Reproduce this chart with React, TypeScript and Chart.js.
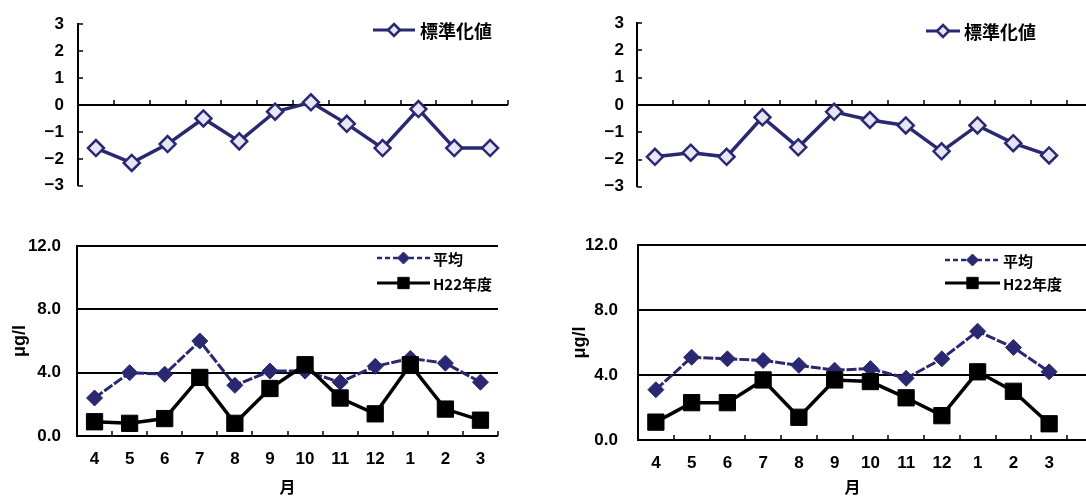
import React, { useEffect, useRef } from 'react';
import { Chart, registerables } from 'chart.js';

Chart.register(...registerables);

// Months of the fiscal year (April to March)
const months = ['4', '5', '6', '7', '8', '9', '10', '11', '12', '1', '2', '3'];

// Tick values of the two kinds of value axes
const stdTicks = [-3, -2, -1, 0, 1, 2, 3];
const concTicks = [0, 4, 8, 12];

// Standardized values (upper panels)
const leftStandardized = [-1.6, -2.15, -1.45, -0.5, -1.35, -0.25, 0.1, -0.7, -1.6, -0.15, -1.6, -1.6];
const rightStandardized = [-1.9, -1.75, -1.9, -0.45, -1.55, -0.25, -0.55, -0.75, -1.7, -0.75, -1.4, -1.85];

// Concentrations in μg/l (lower panels)
const leftAverage = [2.4, 4.0, 3.9, 6.0, 3.2, 4.1, 4.1, 3.4, 4.4, 4.9, 4.6, 3.4];
const leftH22 = [0.9, 0.8, 1.1, 3.7, 0.8, 3.0, 4.5, 2.4, 1.4, 4.5, 1.7, 1.0];
const rightAverage = [3.1, 5.1, 5.0, 4.9, 4.6, 4.3, 4.4, 3.8, 5.0, 6.7, 5.7, 4.2];
const rightH22 = [1.1, 2.3, 2.3, 3.7, 1.4, 3.7, 3.6, 2.6, 1.5, 4.2, 3.0, 1.0];

const NAVY = '#2a2870';
const LATIN = "'Liberation Sans', Arial, sans-serif";
const CJK = "'Noto Sans CJK JP', 'Noto Sans', sans-serif";

type Area = { left: number; top: number; right: number; bottom: number };
type LegendSpec = { x: number; y: number; rowH: number; lineW: number; gap: number; font: string };
type Panel = {
  left: number;
  top: number;
  width: number;
  height: number;
  area: Area;
  kind: 'std' | 'conc';
  datasets: any[];
  legend: LegendSpec;
  extendRight: boolean;
  yPad: number;
  yTitlePad: number;
};

function drawMarker(ctx: CanvasRenderingContext2D, style: string, x: number, y: number, r: number, fill: string, stroke: string, bw: number) {
  ctx.beginPath();
  if (style === 'rectRot') {
    ctx.moveTo(x, y - r);
    ctx.lineTo(x + r, y);
    ctx.lineTo(x, y + r);
    ctx.lineTo(x - r, y);
    ctx.closePath();
  } else {
    const s = r * Math.SQRT1_2;
    ctx.rect(x - s, y - s, 2 * s, 2 * s);
  }
  ctx.fillStyle = fill;
  ctx.fill();
  if (bw > 0) {
    ctx.lineWidth = bw;
    ctx.strokeStyle = stroke;
    ctx.stroke();
  }
}

function line(ctx: CanvasRenderingContext2D, x1: number, y1: number, x2: number, y2: number) {
  ctx.beginPath();
  ctx.moveTo(x1, y1);
  ctx.lineTo(x2, y2);
  ctx.stroke();
}

// Axis line at zero, category tick marks, horizontal rules and the in-plot legend
const axisMarks = {
  id: 'axisMarks',
  beforeDatasetsDraw(chart: any, _args: any, opts: any) {
    const { ctx, chartArea: a } = chart;
    const xs = chart.scales.x;
    const ys = chart.scales.y;
    const right = opts.extendRight ? chart.width : a.right;
    ctx.save();
    ctx.strokeStyle = '#000';
    ctx.lineWidth = 2;
    if (opts.grid) {
      for (const t of ys.ticks) {
        const py = Math.round(ys.getPixelForValue(t.value));
        line(ctx, a.left, py, right, py);
      }
    }
    const zy = Math.round(ys.getPixelForValue(0));
    line(ctx, a.left, zy, right, zy);
    // tick marks at category boundaries, pointing up
    const step = xs.getPixelForValue(1) - xs.getPixelForValue(0);
    const start = xs.getPixelForValue(0) - step / 2;
    ctx.lineWidth = 1.5;
    for (let i = 1; i <= xs.ticks.length; i++) {
      const px = Math.round(start + i * step);
      line(ctx, px, zy, px, zy - 5);
    }
    // small inward ticks on the value axis
    if (opts.innerYTicks) {
      for (const t of ys.ticks) {
        const py = Math.round(ys.getPixelForValue(t.value));
        line(ctx, a.left, py, a.left + 5, py);
      }
    }
    ctx.restore();
  },
  afterDraw(chart: any, _args: any, opts: any) {
    const lg: LegendSpec = opts.legend;
    if (!lg) return;
    const ctx: CanvasRenderingContext2D = chart.ctx;
    chart.data.datasets.forEach((ds: any, i: number) => {
      const cy = lg.y + i * lg.rowH;
      ctx.save();
      ctx.strokeStyle = ds.borderColor;
      ctx.lineWidth = ds.legendLineWidth;
      ctx.setLineDash(ds.legendDash || []);
      line(ctx, lg.x, cy, lg.x + lg.lineW, cy);
      ctx.setLineDash([]);
      drawMarker(ctx, ds.pointStyle, lg.x + lg.lineW / 2, cy, ds.legendRadius, ds.pointBackgroundColor, ds.pointBorderColor, ds.pointBorderWidth);
      ctx.fillStyle = '#000';
      ctx.font = lg.font;
      ctx.textAlign = 'left';
      ctx.textBaseline = 'middle';
      ctx.fillText(ds.label, lg.x + lg.lineW + lg.gap, cy + 1);
      ctx.restore();
    });
  },
};

function stdDataset(values: number[]) {
  return {
    label: '標準化値',
    data: values,
    borderColor: NAVY,
    borderWidth: 3.5,
    pointStyle: 'rectRot',
    pointRadius: 8,
    pointBackgroundColor: '#e6e6f6',
    pointBorderColor: NAVY,
    pointBorderWidth: 2.5,
    legendRadius: 6,
    legendLineWidth: 3,
    tension: 0,
  };
}

function averageDataset(values: number[]) {
  return {
    label: '平均',
    data: values,
    order: 2,
    borderColor: NAVY,
    borderWidth: 3,
    borderDash: [10, 2],
    pointStyle: 'rectRot',
    pointRadius: 8,
    pointBackgroundColor: NAVY,
    pointBorderColor: NAVY,
    pointBorderWidth: 1,
    legendRadius: 6,
    legendLineWidth: 2.5,
    legendDash: [5, 3],
    tension: 0,
  };
}

function h22Dataset(values: number[]) {
  return {
    label: 'H22年度',
    data: values,
    order: 1,
    borderColor: '#000',
    borderWidth: 3.5,
    pointStyle: 'rect',
    pointRadius: 11.5,
    pointBackgroundColor: '#000',
    pointBorderColor: '#000',
    pointBorderWidth: 1,
    legendRadius: 8,
    legendLineWidth: 3,
    tension: 0,
  };
}

const panels: Panel[] = [
  {
    left: 0, top: 0, width: 543, height: 210,
    area: { left: 78, top: 19, right: 508, bottom: 189 },
    kind: 'std',
    datasets: [stdDataset(leftStandardized)],
    legend: { x: 373, y: 30, rowH: 0, lineW: 42, gap: 5, font: `bold 18px ${CJK}` },
    extendRight: false, yPad: 14, yTitlePad: 0,
  },
  {
    left: 543, top: 0, width: 543, height: 210,
    area: { left: 94, top: 15, right: 524, bottom: 188 },
    kind: 'std',
    datasets: [stdDataset(rightStandardized)],
    legend: { x: 383, y: 31, rowH: 0, lineW: 34, gap: 4, font: `bold 18px ${CJK}` },
    extendRight: true, yPad: 13, yTitlePad: 0,
  },
  {
    left: 0, top: 215, width: 543, height: 282,
    area: { left: 77, top: 31, right: 498, bottom: 221 },
    kind: 'conc',
    datasets: [averageDataset(leftAverage), h22Dataset(leftH22)],
    legend: { x: 377, y: 43, rowH: 25, lineW: 53, gap: 3, font: `bold 15px ${CJK}` },
    extendRight: false, yPad: 16, yTitlePad: 9,
  },
  {
    left: 543, top: 215, width: 543, height: 282,
    area: { left: 95, top: 29, right: 524, bottom: 225 },
    kind: 'conc',
    datasets: [averageDataset(rightAverage), h22Dataset(rightH22)],
    legend: { x: 402, y: 45, rowH: 23, lineW: 55, gap: 3, font: `bold 15px ${CJK}` },
    extendRight: true, yPad: 20, yTitlePad: 26,
  },
];

function buildConfig(p: Panel): any {
  const isStd = p.kind === 'std';
  const tickValues = isStd ? stdTicks : concTicks;
  const tickFont = { family: LATIN, size: 17, weight: 'bold' as const };
  return {
    type: 'line',
    data: { labels: months, datasets: p.datasets },
    options: {
      animation: false,
      responsive: false,
      events: [],
      layout: {
        padding: {
          left: 0,
          top: p.area.top,
          right: p.width - p.area.right,
          bottom: isStd ? p.height - p.area.bottom : 0,
        },
      },
      scales: {
        x: isStd
          ? { type: 'category', offset: true, display: false }
          : {
              type: 'category',
              offset: true,
              grid: { display: false, drawTicks: false },
              border: { display: false },
              ticks: { color: '#000', font: tickFont, padding: 13, maxRotation: 0, autoSkip: false },
              title: { display: true, text: '月', color: '#000', font: { family: CJK, size: 16, weight: 'bold' }, padding: 0 },
              afterFit: (s: any) => { s.height = p.height - p.area.bottom; },
            },
        y: {
          min: tickValues[0],
          max: tickValues[tickValues.length - 1],
          afterBuildTicks: (s: any) => { s.ticks = tickValues.map((v) => ({ value: v })); },
          grid: { display: false, drawTicks: false },
          border: { display: true, color: '#000', width: 2 },
          ticks: {
            color: '#000',
            font: tickFont,
            padding: p.yPad,
            callback: (v: number) => (isStd ? (v < 0 ? '−' + Math.abs(v) : String(v)) : v.toFixed(1)),
          },
          title: isStd
            ? { display: false }
            : { display: true, text: 'μg/l', color: '#000', font: { family: LATIN, size: 18, weight: 'bold' }, padding: p.yTitlePad },
          afterFit: (s: any) => { s.width = p.area.left; },
        },
      },
      plugins: {
        legend: { display: false },
        tooltip: { enabled: false },
        axisMarks: {
          grid: !isStd,
          innerYTicks: isStd,
          extendRight: p.extendRight,
          legend: p.legend,
        },
      },
    },
    plugins: [axisMarks],
  };
}

function ChartPanel({ panel }: { panel: Panel }) {
  const ref = useRef<HTMLCanvasElement>(null);
  useEffect(() => {
    const chart = new Chart(ref.current as HTMLCanvasElement, buildConfig(panel));
    return () => chart.destroy();
  }, [panel]);
  return (
    <canvas
      ref={ref}
      width={panel.width}
      height={panel.height}
      style={{ position: 'absolute', left: panel.left, top: panel.top, width: panel.width, height: panel.height }}
    />
  );
}

export default function App() {
  return (
    <div style={{ position: 'absolute', left: 0, top: 0, width: 1086, height: 497, background: '#fff', overflow: 'hidden' }}>
      {panels.map((p, i) => (
        <ChartPanel key={i} panel={p} />
      ))}
    </div>
  );
}
